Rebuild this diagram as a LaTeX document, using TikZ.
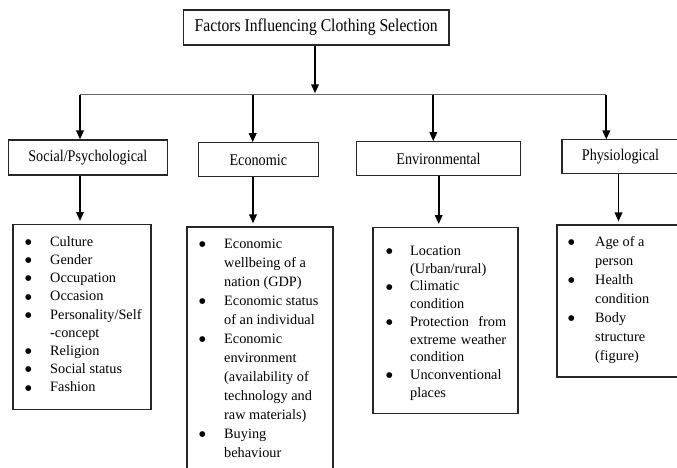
\documentclass[tikz,border=0pt]{standalone}
\usepackage{fontspec}
\setmainfont{Liberation Serif}
\newfontfamily\headfont{Liberation Serif}[FakeStretch=0.87]
\newfontfamily\symfont{DejaVu Sans}
\usetikzlibrary{arrows.meta}
\tikzset{
  headbox/.style={draw=black!85, line width=1.1pt, fill=white, inner sep=0pt,
    font=\headfont\fontsize{16.3}{18}\selectfont},
  listbox/.style={draw=black!85, line width=1.1pt, inner sep=0pt},
  listtext/.style={anchor=base west, inner sep=0pt, align=left},
  arr/.style={line width=1.8pt, -{Triangle[length=9pt,width=7.5pt]}},
  barline/.style={line width=1.3pt, draw=black!60}
}
\newcommand{\bl}{\raisebox{1.8pt}{\symfont\fontsize{7.5}{8}\selectfont ●}}
\begin{document}
\begin{tikzpicture}[x=1pt,y=-1pt]
\useasboundingbox (0,0) rectangle (677,468);
\clip (0,0) rectangle (677,468);

% title and category boxes
\node[headbox, minimum width=265.5pt, minimum height=35pt, font=\headfont\fontsize{18}{20}\selectfont] (t) at (316.2,27.5) {Factors Influencing Clothing Selection};
\node[headbox, minimum width=159pt, minimum height=35pt] (s) at (87.8,157.5) {Social/Psychological};
\node[headbox, minimum width=119.5pt, minimum height=34pt] (e) at (258.3,159.8) {Economic};
\node[headbox, minimum width=164.5pt, minimum height=34pt] (v) at (438.5,158.7) {Environmental};
\node[headbox, minimum width=117pt, minimum height=33.5pt] (p) at (620.5,156.7) {Physiological};

% list boxes
\node[listbox, minimum width=138pt, minimum height=184.5pt] (sl) at (82,316.8) {};
\node[listbox, minimum width=146pt, minimum height=245pt] (el) at (260,349.5) {};
\node[listbox, minimum width=145pt, minimum height=185.5pt] (vl) at (445.5,320.3) {};
\node[listbox, minimum width=123pt, minimum height=152pt] (pl) at (618.5,301) {};

% list texts
\node[listtext] (slt) at (25,246.2) {\fontsize{14.3}{18.2}\selectfont
\begin{tabular}[t]{@{}p{25pt}@{}l@{}}
\bl & Culture\\
\bl & Gender\\
\bl & Occupation\\
\bl & Occasion\\
\bl & Personality/Self\\
    & -concept\\
\bl & Religion\\
\bl & Social status\\
\bl & Fashion
\end{tabular}};
\node[listtext] (elt) at (199,248) {\fontsize{14.3}{19}\selectfont
\begin{tabular}[t]{@{}p{25pt}@{}l@{}}
\bl & Economic\\
    & wellbeing of a\\
    & nation (GDP)\\
\bl & Economic status\\
    & of an individual\\
\bl & Economic\\
    & environment\\
    & (availability of\\
    & technology and\\
    & raw materials)\\
\bl & Buying\\
    & behaviour
\end{tabular}};
\node[listtext] (vlt) at (386,255.5) {\fontsize{14.3}{17.7}\selectfont
\begin{tabular}[t]{@{}p{24pt}@{}l@{}}
\bl & Location\\
    & (Urban/rural)\\
\bl & Climatic\\
    & condition\\
\bl & \hbox to 96pt{Protection\hfill from}\\
    & \hbox to 96pt{extreme\hfill weather}\\
    & condition\\
\bl & Unconventional\\
    & places
\end{tabular}};
\node[listtext] (plt) at (568,246.2) {\fontsize{14.3}{19}\selectfont
\begin{tabular}[t]{@{}p{27pt}@{}l@{}}
\bl & Age of a\\
    & person\\
\bl & Health\\
    & condition\\
\bl & Body\\
    & structure\\
    & (figure)
\end{tabular}};

% connector columns
\coordinate (hb) at (315,94.8);
\coordinate (b1) at (80,94.8);
\coordinate (b2) at (252.7,94.8);
\coordinate (b3) at (433.3,94.8);
\coordinate (b4) at (606.3,94.8);
\coordinate (c1) at (80,0);
\coordinate (c2) at (253,0);
\coordinate (c3) at (438.7,0);
\coordinate (c4) at (618.5,0);

\draw[barline] (b1) -- (b4);
\draw[arr] (t.south -| hb) -- ([yshift=1.5pt]hb);
\draw[arr] (b1) -- (b1 |- s.north);
\draw[arr] (b2) -- (b2 |- e.north);
\draw[arr] (b3) -- (b3 |- v.north);
\draw[arr] (b4) -- (b4 |- p.north);
\draw[arr] (s.south -| c1) -- ([yshift=3pt]sl.north -| c1);
\draw[arr] (e.south -| c2) -- ([yshift=3pt]el.north -| c2);
\draw[arr] (v.south -| c3) -- ([yshift=3pt]vl.north -| c3);
\draw[arr] (p.south -| c4) -- ([yshift=3pt]pl.north -| c4);
\end{tikzpicture}
\end{document}
